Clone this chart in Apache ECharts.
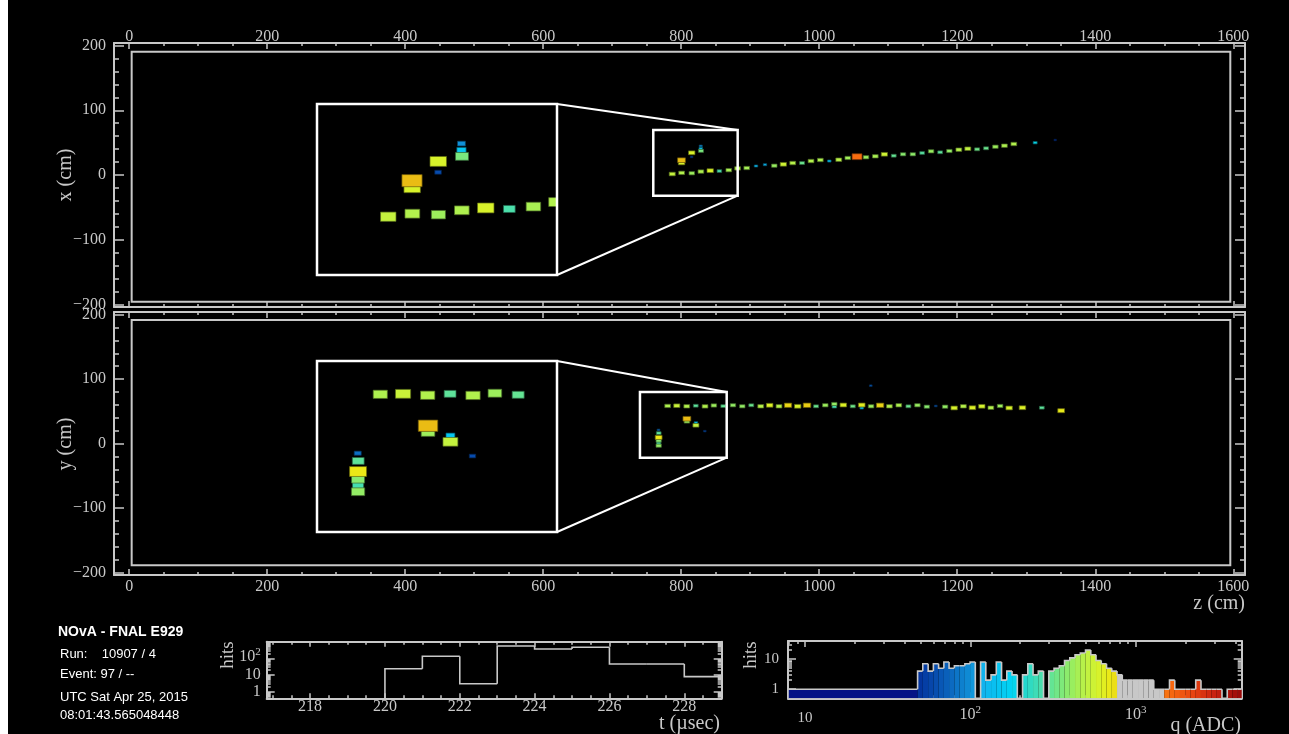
<!DOCTYPE html>
<html>
<head>
<meta charset="utf-8">
<title>NOvA event display</title>
<script src="https://cdn.jsdelivr.net/npm/echarts@6.0.0/dist/echarts.min.js"></script>
<style>
html, body { margin: 0; padding: 0; background: #000; overflow: hidden; }
#chart { width: 1289px; height: 734px; }
</style>
</head>
<body>
<div id="chart"></div>
<script>
// ---------- Hits, x view: plane position z (cm), transverse x (cm), charge q (ADC)
const xvZ = [787.0, 800.6, 815.3, 828.5, 842.0, 855.3, 868.9, 881.7, 894.9, 908.4, 921.4, 934.9, 948.0, 961.6,
  975.1, 988.1, 1001.6, 1014.6, 1028.3, 1041.3, 1054.8, 1067.8, 1081.3, 1094.4, 1108.0, 1121.5, 1135.6, 1149.1,
  1162.1, 1175.2, 1188.6, 1202.3, 1215.3, 1228.8, 1241.8, 1255.3, 1268.4, 1282.0, 1312.9, 1341.9,
  800.4, 800.5, 815.2, 815.1, 828.6, 828.3, 828.3];
const xvX = [1.5, 3.3, 2.7, 5.3, 6.7, 6.1, 7.5, 10.2, 10.8, 13.9, 15.9, 14.4, 16.5, 18.5,
  18.5, 21.6, 23.2, 21.6, 23.6, 26.3, 28.3, 27.4, 28.9, 32.0, 29.8, 32.0, 32.0, 34.0,
  36.6, 35.1, 37.1, 39.1, 40.6, 39.7, 41.3, 43.7, 45.3, 47.9, 49.9, 54.1,
  22.9, 18.7, 34.3, 27.9, 37.3, 41.0, 44.9];
const xvQ = [520, 470, 420, 460, 600, 270, 450, 470, 440, 130, 125, 410, 560, 480,
  320, 470, 460, 140, 490, 430, 1600, 420, 450, 560, 310, 380, 390, 290,
  410, 300, 400, 480, 510, 330, 320, 420, 460, 470, 190, 50,
  950, 600, 600, 60, 350, 150, 100];

// ---------- Hits, y view: plane position z (cm), transverse y (cm), charge q (ADC)
const yvZ = [780.3, 793.6, 808.0, 821.1, 834.5, 847.3, 860.9, 875.0, 888.5, 901.5, 915.2, 928.2, 941.7, 954.8,
  968.8, 982.3, 995.4, 1008.8, 1021.9, 1021.9, 1034.9, 1048.6, 1061.6, 1061.6, 1075.1, 1088.2, 1101.7, 1115.3,
  1129.2, 1142.3, 1155.9, 1168.9, 1182.4, 1195.5, 1208.9, 1222.0, 1235.6, 1248.7, 1262.1, 1275.2, 1294.5, 1322.6,
  1350.6, 1074.7,
  808.2, 808.2, 821.3, 821.3, 834.2, 767.1, 767.4, 767.3, 767.3, 767.3, 767.3];
const yvY = [58.3, 58.6, 57.7, 58.6, 57.6, 59.0, 58.0, 59.3, 57.7, 59.3, 57.7, 59.3, 57.7, 59.3,
  57.7, 59.3, 57.7, 59.3, 61.3, 57.1, 59.7, 57.7, 59.7, 55.1, 57.7, 59.3, 57.7, 59.3,
  57.7, 59.3, 57.1, 58.2, 57.1, 55.1, 57.7, 55.5, 57.7, 55.5, 58.2, 55.1, 55.5, 55.5,
  50.9, 89.7,
  38.4, 34.2, 32.1, 28.2, 19.2, 21.0, 16.1, 9.4, 4.5, 0.7, -3.4];
const yvQ = [460, 540, 470, 300, 470, 420, 310, 400, 400, 320, 480, 620, 480, 800,
  600, 850, 320, 420, 400, 260, 620, 330, 640, 150, 420, 820, 470, 460,
  320, 410, 380, 70, 400, 600, 480, 620, 580, 470, 420, 600, 620, 300,
  680, 70,
  950, 420, 150, 520, 60, 80, 300, 700, 380, 260, 400];

// ---------- Detector outline and zoom regions (cm)
const detZ = [3.6, 1595.7];
const detX = [-195.8, 190.6];
const detY = [-188.7, 191.6];
const zoomBoxX = [759.5, 881.8, -31.9, 69.4];      // z0, z1, x0, x1
const zoomBoxY = [740.2, 865.9, -22.0, 79.9];      // z0, z1, y0, y1
const insetZoomX = [746.8, 882.2, -33.1, 68.4];    // axis ranges of the magnified views
const insetZoomY = [743.3, 883.6, -28.9, 79.4];

// ---------- Hit timing histogram (t in microseconds)
const timeEdges = [220, 221, 222, 223, 224, 225, 226, 227, 228, 229];
const timeCounts = [24, 133, 3, 553, 366, 462, 46, 46, 8];

// ---------- Hit charge histogram (q in ADC)
const adcEdges = [7.9, 48, 51.6, 55.6, 59.8, 64.3, 69.2, 74.4, 80.1, 86.1, 92.7, 99.7, 107.2, 115.4, 124.1,
  133.5, 143.6, 154.5, 166.2, 178.8, 192.4, 207.0, 222.7, 239.5, 257.7, 277.2, 298.3, 320.9, 345.2,
  371.4, 399.5, 429.8, 462.4, 497.4, 535.1, 575.7, 619.3, 666.3, 716.8, 771.1, 829.6, 892.5, 960.1,
  1033, 1111, 1195, 1286, 1384, 1488, 1601, 1723, 1853, 1994, 2145, 2307, 2482, 2671, 2873, 3091,
  3325, 3577, 3848, 4140, 4375];
const adcCounts = [1, 4, 7, 4, 7, 5, 8, 5, 6, 6, 7, 8, 0, 8, 2, 3, 8, 2, 4, 3, 0, 3, 7, 3, 4, 0, 4, 5, 6,
  9, 11, 14, 16, 20, 14, 9, 7, 5, 4, 3, 2, 2, 2, 2, 2, 2, 1, 1, 1, 2, 1, 1, 1, 1, 2, 1, 1, 1, 1, 0, 1, 1, 1];

// ---------- Axis tick labels
const zTicks = [0, 200, 400, 600, 800, 1000, 1200, 1400, 1600];
const vTicks = [-200, -100, 0, 100, 200];
const tTicks = [218, 220, 222, 224, 226, 228];
const hitTicks = [1, 10, 100];
const adcTicks = [10, 100, 1000];
const adcHitTicks = [1, 10];

// ---------- Event header
const header = {
  title: 'NOvA - FNAL E929',
  run: '10907 / 4',
  event: 'Event: 97 / --',
  date: 'UTC Sat Apr 25, 2015',
  time: '08:01:43.565048448'
};

// ======================================================================
const SERIF = '"Liberation Serif", "DejaVu Serif", serif';
const SANS = '"Liberation Sans", Arial, sans-serif';
const AX = '#c8c8c8';

// layout of the six plotting areas (px)
const PANEL_X = { left: 114, top: 43, width: 1131, height: 264 };
const PANEL_Y = { left: 114, top: 312, width: 1131, height: 263 };
const INSET_X = { left: 317, top: 104, width: 240, height: 171 };
const INSET_Y = { left: 317, top: 361, width: 240, height: 171 };
const T_HIST = { left: 266.7, top: 641.7, width: 455, height: 56.6 };
const Q_HIST = { left: 788, top: 641, width: 453.7, height: 57.3 };

const Z_RANGE = [-22, 1617];
const V_RANGE = [-204, 204];
const T_RANGE = [216.84, 229];
const T_HITS = [0.4, 1000];
const Q_RANGE = [7.9, 4375];
const Q_HITS = [0.5, 40];

// cell footprint (cm) of a full-size hit box
const CELL_DZ = 9.5, CELL_DV = 6.0;

// charge palette (log-interpolated)
const PAL_Q = [8, 45, 50, 70, 100, 120, 180, 220, 280, 350, 420, 500, 600, 700, 900, 1200, 1600, 2200, 3000, 4400];
const PAL_C = ['#000a7a', '#0a1c92', '#0436a0', '#0a5cb8', '#1090d8', '#10b4ee', '#00d4f4', '#28d8c8', '#52e0a6',
  '#7ae87e', '#9cee5c', '#bef244', '#d8f22a', '#ece816', '#e8c414', '#f09a12', '#f86c10', '#e84410', '#c82010', '#980808'];
const GREY_BAND = [764, 1440];

function hex(c) { return [1, 3, 5].map(i => parseInt(c.substr(i, 2), 16)); }
function rgbArr(q) {
  if (q <= PAL_Q[0]) return hex(PAL_C[0]);
  for (let i = 0; i < PAL_Q.length - 1; i++) {
    if (q <= PAL_Q[i + 1]) {
      const t = (Math.log(q) - Math.log(PAL_Q[i])) / (Math.log(PAL_Q[i + 1]) - Math.log(PAL_Q[i]));
      const a = hex(PAL_C[i]), b = hex(PAL_C[i + 1]);
      return a.map((v, k) => v + (b[k] - v) * t);
    }
  }
  return hex(PAL_C[PAL_C.length - 1]);
}
function rgb(a) { return 'rgb(' + a.map(v => Math.round(Math.max(0, Math.min(255, v)))).join(',') + ')'; }
function qColor(q) { return rgb(rgbArr(q)); }
function qShade(q, f) { return rgb(rgbArr(q).map(v => v * f)); }
// box scale grows with charge
function hitScale(q) { return 0.12 + 0.035 * Math.sqrt(q); }

// ---------- tables built from the arrays
function hitRows(zs, vs, qs) {
  return zs.map((z, i) => [z, vs[i], qs[i]]).sort((a, b) => a[2] - b[2]);
}
function inBox(r, b) { return r[0] >= b[0] && r[0] <= b[1] && r[1] >= b[2] && r[1] <= b[3]; }
const hitsX = hitRows(xvZ, xvX, xvQ);
const hitsY = hitRows(yvZ, yvY, yvQ);
const insetHitsX = hitsX.filter(r => inBox(r, zoomBoxX));
const insetHitsY = hitsY.filter(r => inBox(r, zoomBoxY));

function histRows(edges, counts) {
  return counts.map((n, i) => [edges[i], edges[i + 1], n, i > 0 ? counts[i - 1] : 0]);
}
const timeRows = histRows(timeEdges, timeCounts);
const adcRows = histRows(adcEdges, adcCounts);

// ---------- tick decorations
function steps(a, b, d, skip) {
  const out = [];
  for (let v = a; v <= b + 1e-9; v += d) {
    const r = Math.round(v * 1000) / 1000;
    if (!skip.includes(r)) out.push(r);
  }
  return out;
}
function logMinor(lo, hi) {
  const out = [];
  for (let e = -1; e <= 4; e++) for (let m = 2; m <= 9; m++) {
    const v = +(m * Math.pow(10, e)).toPrecision(6);
    if (v > lo && v < hi) out.push(v);
  }
  return out;
}
const zMinor = steps(50, 1550, 50, zTicks);
const vMinor = steps(-180, 180, 20, vTicks);
const tMinor = steps(217, 228.5, 0.5, tTicks);
const hitMinor = logMinor(T_HITS[0], T_HITS[1]);
const adcMinor = logMinor(Q_RANGE[0], Q_RANGE[1]);
const adcHitMinor = logMinor(Q_HITS[0], Q_HITS[1]);

const plain = v => String(v);
const minus = v => (v < 0 ? '\u2212' + (-v) : String(v));
const powLabel = v => {
  const e = Math.round(Math.log10(v));
  if (e <= 1) return String(Math.round(v));
  return '{b|10}{s|' + e + '}';
};
const RICH = {
  b: { fontFamily: SERIF, fontSize: 16, lineHeight: 12, color: AX, verticalAlign: 'bottom' },
  s: { fontFamily: SERIF, fontSize: 11, lineHeight: 6, color: AX, verticalAlign: 'bottom', padding: [0, 0, 7, 0] }
};

// ---------- axes
const xAxes = [], yAxes = [];
function axisDef(o) {
  const a = {
    type: o.type || 'value', gridIndex: o.grid, position: o.pos, min: o.min, max: o.max,
    show: o.show !== false, silent: true,
    axisLine: { show: !!o.line, onZero: false, lineStyle: { color: AX, width: 2 } },
    axisTick: { show: !!o.ticks, inside: true, length: o.len || 4, customValues: o.ticks,
      lineStyle: { color: AX, width: 1.5 } },
    axisLabel: o.labels ? { show: true, customValues: o.labels, formatter: o.fmt || plain, margin: o.margin,
      showMinLabel: true, showMaxLabel: true, hideOverlap: false, interval: 0,
      color: AX, fontFamily: SERIF, fontSize: o.fs || 16, rich: RICH } : { show: false },
    splitLine: { show: false }, minorTick: { show: false }, minorSplitLine: { show: false }
  };
  if (a.type === 'log') a.logBase = 10;
  return a;
}
function add(list, o) { list.push(axisDef(o)); return list.length - 1; }

// frame with four ticked sides; returns indices of the data axes
function frame(grid, xo, yo) {
  const xi = add(xAxes, Object.assign({ grid, pos: xo.labelPos, line: true, ticks: xo.major, len: xo.lenMajor,
    labels: xo.labels, fmt: xo.fmt, margin: xo.margin, fs: xo.fs }, xo.base));
  add(xAxes, Object.assign({ grid, pos: xo.labelPos, ticks: xo.minor, len: xo.lenMinor }, xo.base));
  const other = xo.labelPos === 'top' ? 'bottom' : 'top';
  add(xAxes, Object.assign({ grid, pos: other, line: true, ticks: xo.major, len: xo.lenMajor }, xo.base));
  add(xAxes, Object.assign({ grid, pos: other, ticks: xo.minor, len: xo.lenMinor }, xo.base));
  const yi = add(yAxes, Object.assign({ grid, pos: 'left', line: true, ticks: yo.major, len: yo.lenMajor,
    labels: yo.labels, fmt: yo.fmt, margin: yo.margin, fs: yo.fs }, yo.base));
  add(yAxes, Object.assign({ grid, pos: 'left', ticks: yo.minor, len: yo.lenMinor }, yo.base));
  add(yAxes, Object.assign({ grid, pos: 'right', line: true, ticks: yo.major, len: yo.lenMajor }, yo.base));
  add(yAxes, Object.assign({ grid, pos: 'right', ticks: yo.minor, len: yo.lenMinor }, yo.base));
  return [xi, yi];
}

const zBase = { min: Z_RANGE[0], max: Z_RANGE[1] };
const vBase = { min: V_RANGE[0], max: V_RANGE[1] };
const vOpts = { base: vBase, major: vTicks, minor: vMinor, lenMajor: 10, lenMinor: 5,
  labels: vTicks, fmt: minus, margin: 8 };

const [pxX, pxY] = frame(0,
  { base: zBase, labelPos: 'top', major: zTicks, minor: zMinor, lenMajor: 6, lenMinor: 3, labels: zTicks, margin: -2 },
  vOpts);
const [pyX, pyY] = frame(1,
  { base: zBase, labelPos: 'bottom', major: zTicks, minor: zMinor, lenMajor: 6, lenMinor: 3, labels: zTicks, margin: 4 },
  vOpts);

const ixX = add(xAxes, { grid: 2, show: false, min: insetZoomX[0], max: insetZoomX[1] });
const ixY = add(yAxes, { grid: 2, show: false, min: insetZoomX[2], max: insetZoomX[3] });
const iyX = add(xAxes, { grid: 3, show: false, min: insetZoomY[0], max: insetZoomY[1] });
const iyY = add(yAxes, { grid: 3, show: false, min: insetZoomY[2], max: insetZoomY[3] });

const [thX, thY] = frame(4,
  { base: { min: T_RANGE[0], max: T_RANGE[1] }, labelPos: 'bottom', major: tTicks, minor: tMinor,
    lenMajor: 5, lenMinor: 3, labels: tTicks, margin: 0 },
  { base: { type: 'log', min: T_HITS[0], max: T_HITS[1] }, major: hitTicks, minor: hitMinor,
    lenMajor: 8, lenMinor: 4, labels: hitTicks, fmt: powLabel, margin: 6 });
const [qhX, qhY] = frame(5,
  { base: { type: 'log', min: Q_RANGE[0], max: Q_RANGE[1] }, labelPos: 'bottom', major: adcTicks, minor: adcMinor,
    lenMajor: 6, lenMinor: 3, labels: adcTicks, fmt: powLabel, margin: 12, fs: 15 },
  { base: { type: 'log', min: Q_HITS[0], max: Q_HITS[1] }, major: adcHitTicks, minor: adcHitMinor,
    lenMajor: 8, lenMinor: 4, labels: adcHitTicks, fmt: powLabel, margin: 9, fs: 15 });

// ---------- renderers
function outlineItem(params, api) {
  const a = api.coord([api.value(0), api.value(3)]);
  const b = api.coord([api.value(1), api.value(2)]);
  return { type: 'rect', shape: { x: a[0], y: a[1], width: b[0] - a[0], height: b[1] - a[1] },
    style: { fill: 'none', stroke: AX, lineWidth: 2 } };
}
function hitItem(params, api) {
  const q = api.value(2);
  const s = hitScale(q);
  const c = api.coord([api.value(0), api.value(1)]);
  const sz = api.size([CELL_DZ * s, CELL_DV * s]);
  return { type: 'rect', shape: { x: c[0] - sz[0] / 2, y: c[1] - sz[1] / 2, width: sz[0], height: sz[1] },
    style: { fill: qColor(q), stroke: qShade(q, 0.45), lineWidth: 0.7 } };
}
function zoomItem(inset) {
  return function (params, api) {
    const tl = api.coord([api.value(0), api.value(3)]);
    const br = api.coord([api.value(1), api.value(2)]);
    const R = inset.left + inset.width, T = inset.top, B = inset.top + inset.height;
    const st = { stroke: '#fff', lineWidth: 2.5, fill: 'none' };
    return { type: 'group', children: [
      { type: 'rect', shape: { x: tl[0], y: tl[1], width: br[0] - tl[0], height: br[1] - tl[1] }, style: st },
      { type: 'rect', shape: { x: inset.left, y: T, width: inset.width, height: inset.height }, style: st },
      { type: 'line', shape: { x1: R, y1: T, x2: br[0], y2: tl[1] }, style: { stroke: '#fff', lineWidth: 2 } },
      { type: 'line', shape: { x1: R, y1: B, x2: br[0], y2: br[1] }, style: { stroke: '#fff', lineWidth: 2 } }
    ] };
  };
}
function histItem(floor, fillFn) {
  return function (params, api) {
    const x0 = api.value(0), x1 = api.value(1), n = api.value(2), prev = api.value(3);
    const lvl = v => (v > 0 ? v : floor);
    const pL = api.coord([x0, lvl(n)]);
    const pR = api.coord([x1, lvl(n)]);
    const base = api.coord([x0, floor])[1];
    const prevY = api.coord([x0, lvl(prev)])[1];
    const kids = [];
    if (fillFn && n > 0) {
      kids.push({ type: 'rect', shape: { x: pL[0], y: pL[1], width: pR[0] - pL[0], height: base - pL[1] },
        style: { fill: fillFn(x0, x1) } });
    }
    kids.push({ type: 'polyline', shape: { points: [[pL[0], prevY], [pL[0], pL[1]], [pR[0], pR[1]]] },
      style: { stroke: AX, lineWidth: 1.6, fill: 'none' } });
    return { type: 'group', children: kids };
  };
}
function adcFill(q0, q1) {
  const qc = Math.sqrt(q0 * q1);
  if (qc >= GREY_BAND[0] && qc <= GREY_BAND[1]) return AX;
  return qColor(qc);
}

function custom(xi, yi, data, renderItem, z, clip) {
  return { type: 'custom', coordinateSystem: 'cartesian2d', xAxisIndex: xi, yAxisIndex: yi,
    data, renderItem, z, clip: !!clip, silent: true, animation: false };
}

const series = [
  custom(pxX, pxY, [[detZ[0], detZ[1], detX[0], detX[1]]], outlineItem, 1),
  custom(pxX, pxY, hitsX, hitItem, 2),
  custom(ixX, ixY, insetHitsX, hitItem, 3, true),
  custom(pxX, pxY, [zoomBoxX], zoomItem(INSET_X), 4),
  custom(pyX, pyY, [[detZ[0], detZ[1], detY[0], detY[1]]], outlineItem, 1),
  custom(pyX, pyY, hitsY, hitItem, 2),
  custom(iyX, iyY, insetHitsY, hitItem, 3, true),
  custom(pyX, pyY, [zoomBoxY], zoomItem(INSET_Y), 4),
  custom(thX, thY, timeRows, histItem(T_HITS[0], null), 2, true),
  custom(qhX, qhY, adcRows, histItem(Q_HITS[0], adcFill), 2, true)
];

// ---------- text
function txt(text, x, y, font, o) {
  o = o || {};
  return { type: 'text', x, y, rotation: o.rot ? Math.PI / 2 : 0, silent: true, z: 10,
    style: { text, fill: o.color || AX, font, textAlign: o.align || 'center', textVerticalAlign: 'middle' } };
}
const graphic = [
  { type: 'rect', x: 0, y: 0, shape: { width: 8, height: 734 }, style: { fill: '#fff' }, silent: true },
  txt('x (cm)', 66, 175, '20px ' + SERIF, { rot: true }),
  txt('y (cm)', 66, 444, '20px ' + SERIF, { rot: true }),
  txt('z (cm)', 1245, 604, '20px ' + SERIF, { align: 'right' }),
  txt('hits', 228.5, 655, '19px ' + SERIF, { rot: true }),
  txt('t (\u00b5sec)', 720, 724, '20px ' + SERIF, { align: 'right' }),
  txt('hits', 751, 655, '19px ' + SERIF, { rot: true }),
  txt('q (ADC)', 1241, 726, '20px ' + SERIF, { align: 'right' }),
  txt(header.title, 58, 632, 'bold 14px ' + SANS, { align: 'left', color: '#fff' }),
  txt('Run:', 60, 654, '13px ' + SANS, { align: 'left', color: '#fff' }),
  txt(header.run, 101.7, 654, '13px ' + SANS, { align: 'left', color: '#fff' }),
  txt(header.event, 60, 674, '13px ' + SANS, { align: 'left', color: '#fff' }),
  txt(header.date, 60, 697, '13px ' + SANS, { align: 'left', color: '#fff' }),
  txt(header.time, 60, 715, '13px ' + SANS, { align: 'left', color: '#fff' })
];

const gridOf = g => Object.assign({ outerBoundsMode: 'none', containLabel: false }, g);
const option = {
  backgroundColor: '#000',
  animation: false,
  grid: [PANEL_X, PANEL_Y, INSET_X, INSET_Y, T_HIST, Q_HIST].map(gridOf),
  xAxis: xAxes,
  yAxis: yAxes,
  series,
  graphic
};

const chart = echarts.init(document.getElementById('chart'), null, { renderer: 'canvas' });
chart.setOption(option);
</script>
</body>
</html>
